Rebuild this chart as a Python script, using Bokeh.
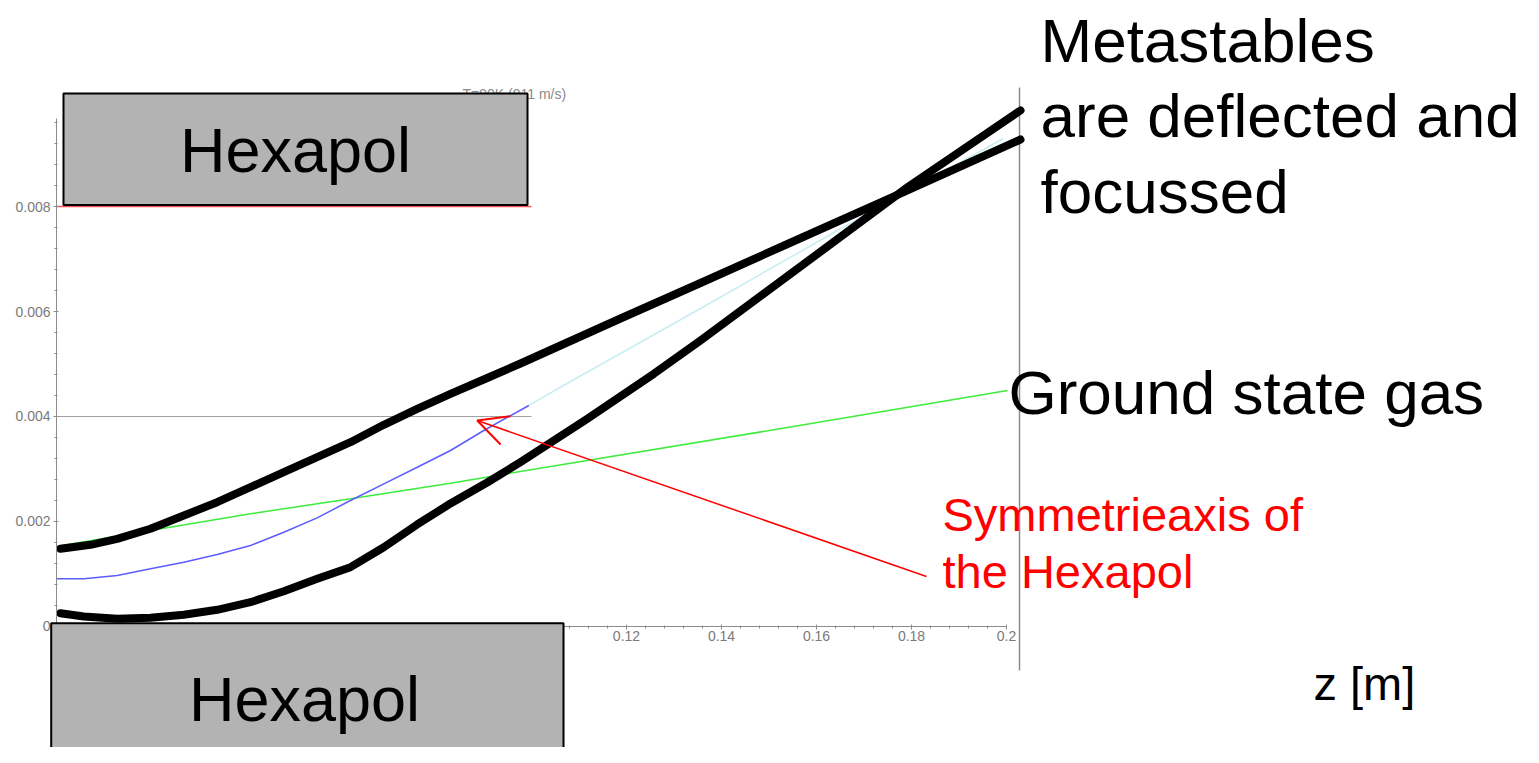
from bokeh.plotting import figure
from bokeh.models import Range1d, LinearAxis, FixedTicker, Arrow, OpenHead
from bokeh.core.properties import value
from bokeh.embed import file_html
from bokeh.resources import INLINE

# ---------------- data (z in m, deflection in m) ----------------
# upper thick black trajectory (metastables)
z_upper = [0.000842, 0.007158, 0.012779, 0.019789, 0.026800, 0.033832, 0.040842,
           0.047853, 0.054884, 0.061895, 0.068905, 0.075937, 0.082947, 0.090674,
           0.097684, 0.104695, 0.118737, 0.135579, 0.153895, 0.179158, 0.202947]
y_upper = [0.001480, 0.001556, 0.001670, 0.001861, 0.002114, 0.002368, 0.002653,
           0.002939, 0.003225, 0.003510, 0.003842, 0.004143, 0.004429, 0.004733,
           0.005010, 0.005295, 0.005867, 0.006543, 0.007286, 0.008309, 0.009276]
# lower thick black trajectory (metastables)
z_lower = [0.000842, 0.005747, 0.012779, 0.019789, 0.026800, 0.033832, 0.040842,
           0.047853, 0.054884, 0.061895, 0.068905, 0.075937, 0.082947, 0.090674,
           0.097684, 0.111726, 0.125747, 0.135579, 0.156632, 0.179368, 0.202947]
y_lower = [0.000253, 0.000190, 0.000147, 0.000166, 0.000223, 0.000318, 0.000463,
           0.000672, 0.000909, 0.001130, 0.001510, 0.001943, 0.002343, 0.002743,
           0.003130, 0.003956, 0.004813, 0.005448, 0.006857, 0.008381, 0.009829]
# blue trajectory (inside hexapol)
z_blue = [0.0, 0.00575, 0.01278, 0.01979, 0.02680, 0.03383, 0.04084, 0.04785,
          0.05488, 0.06189, 0.06891, 0.07594, 0.08295, 0.08996, 0.09943]
y_blue = [0.000909, 0.000909, 0.000971, 0.001099, 0.001225, 0.001371, 0.001543, 0.001796,
          0.002070, 0.002400, 0.002718, 0.003034, 0.003352, 0.003733, 0.004210]
# faint cyan continuation after the hexapol
z_cyan = [0.099432, 0.108211, 0.118737, 0.135579, 0.164421, 0.199368]
y_cyan = [0.004210, 0.004667, 0.005200, 0.006057, 0.007543, 0.009295]
# green: ground state gas (undeflected)
z_green = [0.0, 0.01979, 0.04084, 0.06189, 0.08295, 0.10821, 0.15389, 0.20021]
y_green = [0.001524, 0.001829, 0.002147, 0.002432, 0.002730, 0.003110, 0.003790, 0.004495]
# reference lines of the Maple plot
z_ref = [0.0, 0.1]
y_ref_axis = [0.004, 0.004]
y_ref_pole = [0.008, 0.008]

x_ticks = [0.02, 0.04, 0.06, 0.08, 0.10, 0.12, 0.14, 0.16, 0.18, 0.20]
x_tick_labels = ["0.02", "0.04", "0.06", "0.08", "0.1", "0.12", "0.14", "0.16", "0.18", "0.2"]
x_minor = [i * 0.004 for i in range(1, 51)]
y_ticks = [0.0, 0.002, 0.004, 0.006, 0.008]
y_tick_labels = ["0", "0.002", "0.004", "0.006", "0.008"]
y_minor = [i * 0.0004 for i in range(1, 25)]

title_text = "T=90K (911 m/s)"

# ---------------- figure ----------------
p = figure(width=1523, height=747,
           x_range=Range1d(-0.011789, 0.308842),
           y_range=Range1d(-0.002305, 0.011924),
           x_axis_type=None, y_axis_type=None,
           toolbar_location=None, output_backend="svg", min_border=0)
p.outline_line_color = None
p.background_fill_color = "white"
p.border_fill_color = "white"

def style_axis(ax):
    ax.axis_line_color = "#8c8c8c"
    ax.axis_line_width = 1
    ax.major_tick_line_color = "#8c8c8c"
    ax.minor_tick_line_color = "#8c8c8c"
    ax.major_tick_in = 2
    ax.major_tick_out = 3
    ax.minor_tick_in = 1
    ax.minor_tick_out = 2
    ax.major_label_text_font = "Liberation Sans"
    ax.major_label_text_font_size = "14px"
    ax.major_label_text_color = "#7a7a7a"

xax = LinearAxis(fixed_location=0, bounds=(0, 0.2),
                 ticker=FixedTicker(ticks=x_ticks, minor_ticks=x_minor),
                 major_label_overrides={t: l for t, l in zip(x_ticks, x_tick_labels)})
style_axis(xax)
xax.major_label_standoff = 2
p.add_layout(xax, "below")

yax = LinearAxis(fixed_location=0, bounds=(0, 0.00968),
                 ticker=FixedTicker(ticks=y_ticks, minor_ticks=y_minor),
                 major_label_overrides={t: l for t, l in zip(y_ticks, y_tick_labels)})
style_axis(yax)
yax.major_label_standoff = 3
p.add_layout(yax, "left")

# right border line of the slide's plot area
p.segment(x0=[0.20274], y0=[0.010267], x1=[0.20274], y1=[-0.000838],
          line_color="#8c8c8c", line_width=1.5)

# small plot title (mostly hidden under the top hexapol)
p.text(x=[0.08547], y=[0.010152], text=[title_text],
       text_font=value("Liberation Sans"), text_font_size="14px",
       text_color="#8a8a8a", text_baseline="alphabetic", text_align="left")

# reference lines
p.line(z_ref, y_ref_axis, line_color="#a0a0a0", line_width=1.2)
p.line(z_ref, y_ref_pole, line_color="#ff5050", line_width=1.5)

# thin trajectories
p.line(z_cyan, y_cyan, line_color="#c6eef2", line_width=1.5)
p.line(z_green, y_green, line_color="#3ded3d", line_width=1.5)
p.line(z_blue, y_blue, line_color="#5c5cff", line_width=1.5)

# thick black trajectories
p.line(z_upper, y_upper, line_color="black", line_width=8,
       line_cap="round", line_join="round")
p.line(z_lower, y_lower, line_color="black", line_width=8,
       line_cap="round", line_join="round")

# red arrow
p.add_layout(Arrow(end=OpenHead(size=30, line_color="red", line_width=2),
                   x_start=0.18316, y_start=0.000952, x_end=0.08857, y_end=0.003924,
                   line_color="red", line_width=1.5))

# annotation texts
p.text(x=[0.20716, 0.20716, 0.20716], y=[0.011162, 0.009733, 0.008286],
       text=["Metastables", "are deflected and", "focussed"],
       text_font=value("Liberation Sans"), text_font_size="62px",
       text_color="black", text_baseline="alphabetic", text_align="left")
p.text(x=[0.20042], y=[0.004457], text=["Ground state gas"],
       text_font=value("Liberation Sans"), text_font_size="62px",
       text_color="black", text_baseline="alphabetic", text_align="left")
p.text(x=[0.18653, 0.18653], y=[0.002133, 0.001048],
       text=["Symmetrieaxis of", "the Hexapol"],
       text_font=value("Liberation Sans"), text_font_size="47px",
       text_color="#ff0000", text_baseline="alphabetic", text_align="left")
p.text(x=[0.26463], y=[-0.001086], text=["z [m]"],
       text_font=value("Liberation Sans"), text_font_size="47px",
       text_color="black", text_baseline="alphabetic", text_align="left")

# hexapol boxes (above axes)
p.quad(left=[0.001474, -0.001116], right=[0.09916, 0.10674],
       top=[0.010152, 0.0000629], bottom=[0.008029, -0.003],
       fill_color="#b3b3b3", line_color="black", line_width=2, level="overlay")
p.text(x=[0.05032, 0.05221], y=[0.009067, -0.001390], text=["Hexapol", "Hexapol"],
       text_font=value("Liberation Sans"), text_font_size="63px",
       text_color="black", text_baseline="alphabetic", text_align="center",
       level="overlay")

open("out.html", "w").write(file_html(p, INLINE))
